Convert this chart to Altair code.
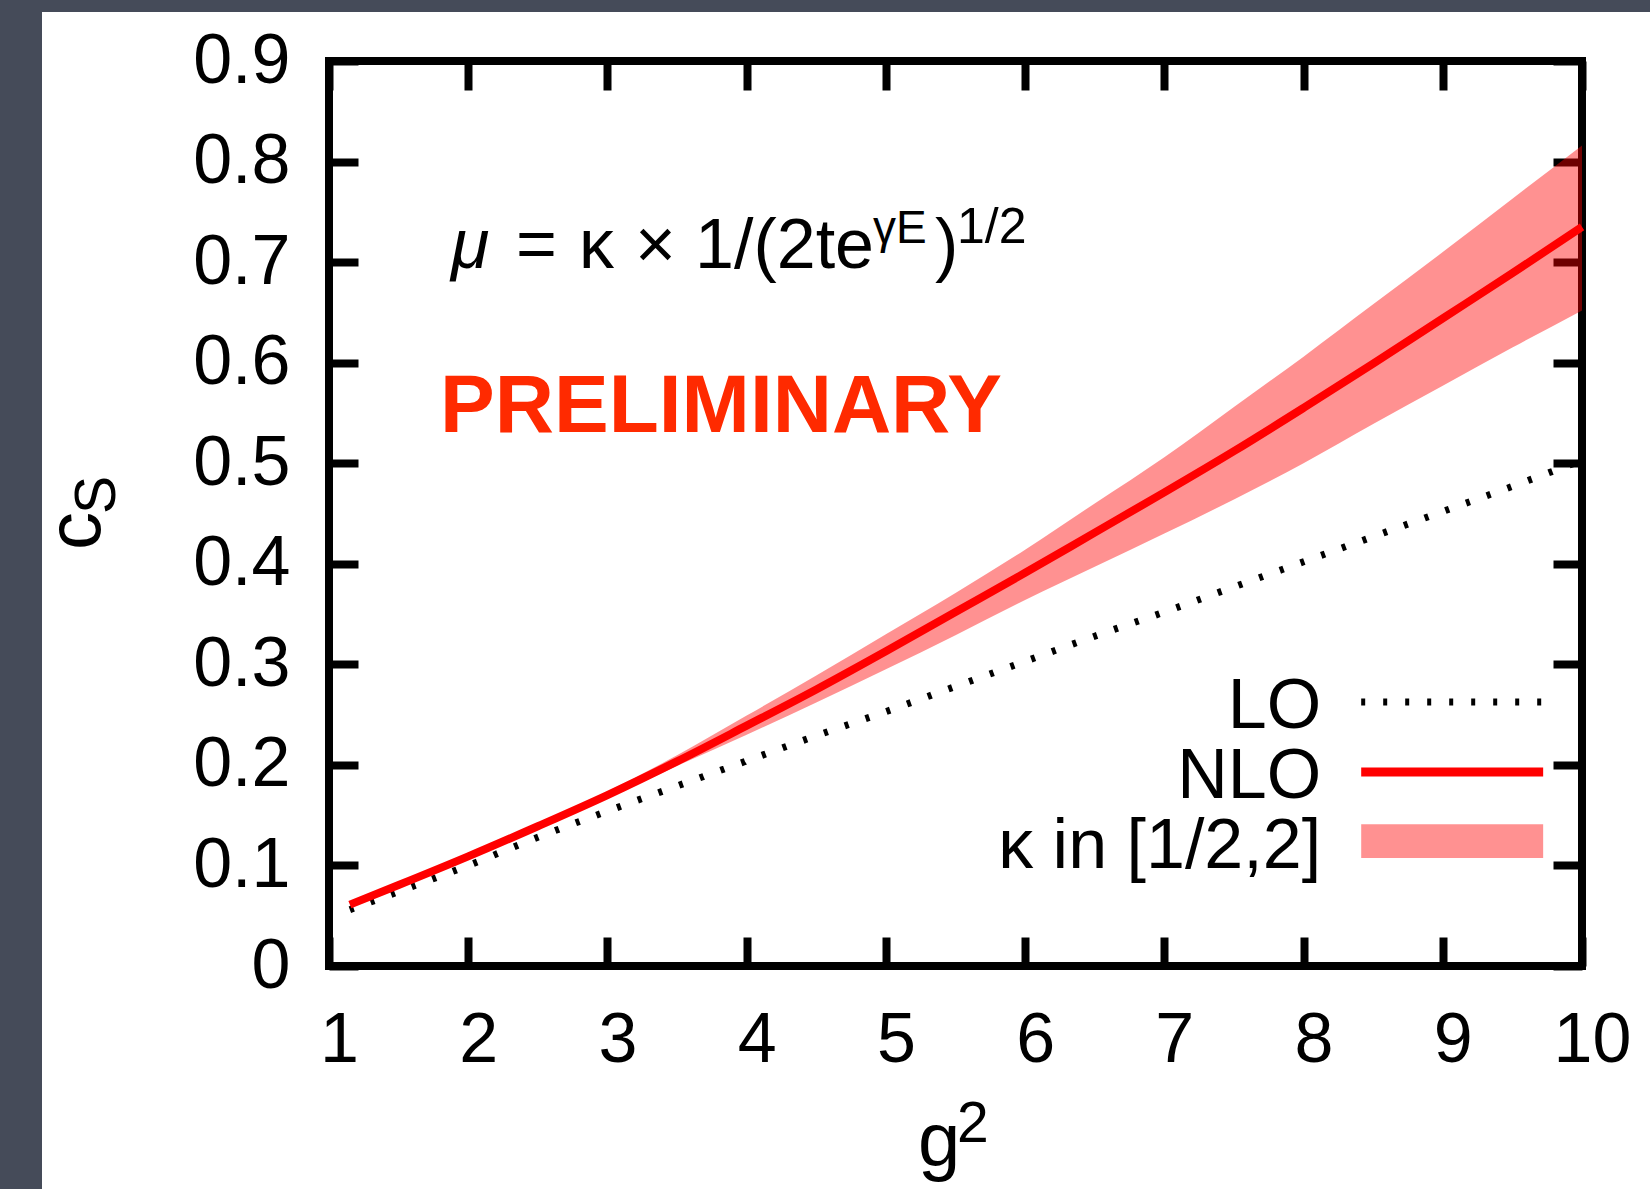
import altair as alt
import pandas as pd

# g^2 sample points and the three curves
g2 = [1.15, 1.5, 2, 2.5, 3, 3.5, 4, 4.5, 5, 5.5, 6, 6.5, 7, 7.5, 8, 8.5, 9, 9.5, 10]
cs_lo = [0.056, 0.074, 0.100, 0.128, 0.154, 0.179, 0.204, 0.229, 0.253, 0.278,
         0.303, 0.328, 0.352, 0.377, 0.402, 0.427, 0.452, 0.477, 0.503]
cs_nlo = [0.061, 0.0805, 0.109, 0.139, 0.170, 0.2035, 0.239, 0.275, 0.313, 0.352,
          0.391, 0.431, 0.471, 0.512, 0.555, 0.599, 0.644, 0.689, 0.735]
cs_band_low = [0.060, 0.079, 0.107, 0.137, 0.167, 0.199, 0.230, 0.262, 0.295, 0.329,
               0.364, 0.397, 0.430, 0.464, 0.500, 0.539, 0.577, 0.615, 0.652]
cs_band_high = [0.061, 0.081, 0.111, 0.141, 0.1735, 0.2095, 0.249, 0.289, 0.330, 0.371,
                0.414, 0.460, 0.506, 0.556, 0.606, 0.658, 0.710, 0.763, 0.816]

x_ticks = [1, 2, 3, 4, 5, 6, 7, 8, 9, 10]
y_ticks = [0, 0.1, 0.2, 0.3, 0.4, 0.5, 0.6, 0.7, 0.8, 0.9]
legend_labels = ["LO", "NLO", "κ in [1/2,2]"]

df = pd.DataFrame({"g2": g2, "lo": cs_lo, "nlo": cs_nlo,
                   "band_low": cs_band_low, "band_high": cs_band_high})
one = alt.Data(values=[{}])

FONT = "Liberation Sans, Arial, Helvetica, sans-serif"
RED = "#ff0000"
SLATE = "#454b59"

xs = alt.Scale(domain=[1, 10], nice=False, zero=False)
ys = alt.Scale(domain=[0, 0.9], nice=False, zero=False)

TICK = 29
ax_bottom = alt.Axis(orient="bottom", values=x_ticks, format="d", tickSize=TICK, offset=-TICK,
                     labelPadding=40, labelOffset=10, labelFlush=False, domain=False,
                     grid=False, title=None)
ax_left = alt.Axis(orient="left", values=y_ticks, tickSize=TICK, offset=-TICK, labelPadding=39,
                   labelExpr="datum.value == 0 ? '0' : format(datum.value, '.1f')",
                   domain=False, grid=False, title=None)
ax_top = alt.Axis(orient="top", values=x_ticks, tickSize=TICK, offset=-TICK, labels=False,
                  domain=False, grid=False, title=None)
ax_right = alt.Axis(orient="right", values=y_ticks, tickSize=TICK, offset=-TICK, labels=False,
                    domain=False, grid=False, title=None)


def px(v):
    return alt.XDatum(v, type="quantitative", scale=xs, axis=None)


def py(v):
    return alt.YDatum(v, type="quantitative", scale=ys, axis=None)


# slate slide edges along the top and the left of the white sheet
edge_top = alt.Chart(one).mark_rect(color=SLATE).encode(
    x=alt.value(-329), x2=alt.value(1330), y=alt.value(-61), y2=alt.value(-49)
)
edge_left = alt.Chart(one).mark_rect(color=SLATE).encode(
    x=alt.value(-329), x2=alt.value(-287), y=alt.value(-61), y2=alt.value(1140)
)

lo_line = alt.Chart(df).mark_line(color="black", strokeWidth=7, strokeDash=[4, 18],
                                  strokeCap="butt", interpolate="monotone").encode(
    x=alt.X("g2:Q", scale=xs, axis=ax_bottom),
    y=alt.Y("lo:Q", scale=ys, axis=ax_left),
)

mirror = alt.Chart(df).mark_point(opacity=0).encode(
    x=alt.X("g2:Q", scale=xs, axis=ax_top),
    y=alt.Y("lo:Q", scale=ys, axis=ax_right),
)

band = alt.Chart(df).mark_area(color=RED, opacity=0.43, interpolate="monotone").encode(
    x=alt.X("g2:Q", scale=xs, axis=None),
    y=alt.Y("band_low:Q", scale=ys, axis=None),
    y2="band_high:Q",
)

nlo_line = alt.Chart(df).mark_line(color=RED, strokeWidth=8, interpolate="monotone").encode(
    x=alt.X("g2:Q", scale=xs, axis=None),
    y=alt.Y("nlo:Q", scale=ys, axis=None),
)


def text(t, gx, cy, size, align="left", **kw):
    return alt.Chart(one).mark_text(text=t, font=FONT, fontSize=size, align=align,
                                    baseline="alphabetic", color="black", **kw).encode(
        x=px(gx), y=py(cy)
    )


# legend
leg_x0, leg_x1 = 8.414, 9.721
leg_lo = alt.Chart(one).mark_rule(color="black", strokeWidth=7, strokeDash=[4, 18],
                                  strokeCap="butt").encode(
    x=px(leg_x0), x2=alt.X2Datum(leg_x1), y=py(0.2625)
)
leg_nlo = alt.Chart(one).mark_rule(color=RED, strokeWidth=9).encode(
    x=px(leg_x0), x2=alt.X2Datum(leg_x1), y=py(0.193)
)
leg_band = alt.Chart(one).mark_rect(color=RED, opacity=0.43).encode(
    x=px(leg_x0), x2=alt.X2Datum(leg_x1), y=py(0.1074), y2=alt.Y2Datum(0.141)
)
leg_texts = [
    text(legend_labels[0], 8.126, 0.2367, 70, align="right"),
    text(legend_labels[1], 8.126, 0.1671, 70, align="right"),
    text(legend_labels[2], 8.126, 0.0975, 70, align="right"),
]

# scale-setting formula, set piece by piece
FS = 70
formula = [
    text("μ", 1.876, 0.694, FS, fontStyle="italic"),
    text("=", 2.343, 0.694, FS),
    text("κ", 2.796, 0.694, FS),
    text("×", 3.198, 0.694, FS),
    text("1/(2te", 3.629, 0.694, FS),
    text("γE", 4.908, 0.719, 46),
    text(")", 5.353, 0.694, FS),
    text("1/2", 5.511, 0.719, 50),
]

prelim = alt.Chart(one).mark_text(text="PRELIMINARY", font=FONT, fontSize=82,
                                  fontWeight="bold", color="#ff2a00", align="center",
                                  baseline="alphabetic").encode(
    x=px(3.816), y=py(0.531)
)

# axis titles: c_S (rotated) and g^2
titles = [
    alt.Chart(one).mark_text(text="c", font=FONT, fontSize=76, angle=270, align="center",
                             baseline="alphabetic", color="black").encode(
        x=px(-0.645), y=py(0.4326)),
    alt.Chart(one).mark_text(text="S", font=FONT, fontSize=57, angle=270, align="center",
                             baseline="alphabetic", color="black").encode(
        x=px(-0.537), y=py(0.4684)),
    text("g", 5.231, -0.1989, 76),
    text("2", 5.511, -0.1750, 57),
]

chart = alt.layer(
    edge_top, edge_left, lo_line, mirror, band, nlo_line, leg_lo, leg_nlo, leg_band,
    *leg_texts, *formula, prelim, *titles
).resolve_axis(
    x="independent", y="independent"
).properties(
    width=1253, height=905,
    autosize=alt.AutoSizeParams(type="none"),
    padding={"left": 329, "top": 61, "right": 68, "bottom": 223},
    background="white",
).configure_view(
    stroke="black", strokeWidth=8
).configure_axis(
    labelFont=FONT, labelFontSize=70, labelColor="black",
    tickColor="black", tickWidth=8,
)

chart.save("out.html", embed_options={"renderer": "svg", "actions": False})
